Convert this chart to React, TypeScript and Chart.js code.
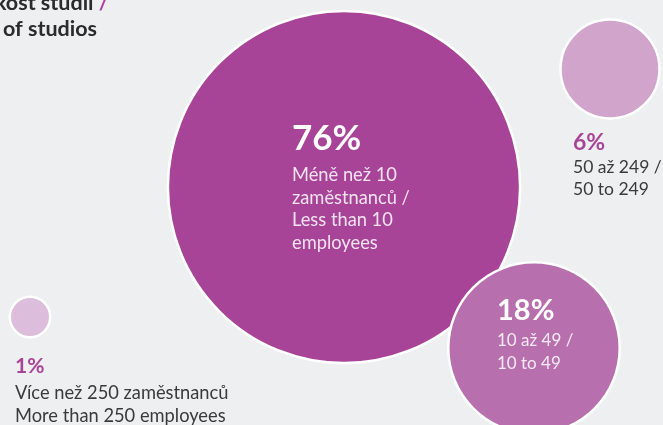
import React, { useEffect, useRef } from "react";
import { Chart, registerables } from "chart.js";

Chart.register(...registerables);

// ---- data ----
const shares = [76, 18, 6, 1];
const shareLabels = ["76%", "18%", "6%", "1%"];
const czLabels = ["Méně než 10 zaměstnanců /", "10 až 49 /", "50 až 249 /", "Více než 250 zaměstnanců"];
const enLabels = ["Less than 10 employees", "10 to 49", "50 to 249", "More than 250 employees"];
// label lines as laid out in the reference
const labelLines: string[][] = [
  ["Méně než 10", "zaměstnanců /", "Less than 10", "employees"],
  ["10 až 49 /", "10 to 49"],
  ["50 až 249 /", "50 to 249"],
  ["Více než 250 zaměstnanců", "More than 250 employees"],
];
// layout of bubbles (layout units = canvas pixels)
const bubbleX = [344, 534, 610, 30];
const bubbleY = [187, 348, 69, 317];
const bubbleColors = ["#a84497", "#b86fae", "#d1a4cc", "#dcbedc"];
const titleLine1 = "Velikost studií ";
const titleSlash = "/";
const titleLine2 = "Size of studios";
const titleLine2Visible = "of studios";

const K = 20.2;
const FONT = "Lato, 'Open Sans', sans-serif";

export default function App() {
  const ref = useRef<HTMLCanvasElement | null>(null);
  useEffect(() => {
    document.body.style.margin = "0";
    const canvas = ref.current!;
    const labelPlugin = {
      id: "labels",
      beforeDraw(chart: any) {
        const c = chart.ctx;
        c.save();
        c.fillStyle = "#eeeff1";
        c.fillRect(0, 0, chart.width, chart.height);
        c.restore();
      },
      afterDatasetsDraw(chart: any) {
        const c = chart.ctx as CanvasRenderingContext2D;
        const meta = chart.getDatasetMeta(0);
        const pts = meta.data;
        c.save();
        c.textAlign = "left";
        // 76% inside big bubble
        {
          const p = pts[0];
          const x = p.x - 52;
          c.fillStyle = "#ffffff";
          c.font = `bold 35px ${FONT}`;
          c.textBaseline = "alphabetic";
          c.fillText(shareLabels[0], x, p.y - 37);
          c.font = `18.3px ${FONT}`;
          c.fillStyle = "rgba(255,255,255,0.85)";
          c.textBaseline = "middle";
          labelLines[0].forEach((t, i) => c.fillText(t, x, p.y - 12 + i * 22.7));
        }
        // 18%
        {
          const p = pts[1];
          const x = p.x - 37;
          c.fillStyle = "#ffffff";
          c.font = `bold 29px ${FONT}`;
          c.textBaseline = "alphabetic";
          c.fillText(shareLabels[1], x, p.y - 28);
          c.font = `17px ${FONT}`;
          c.fillStyle = "rgba(255,255,255,0.85)";
          c.textBaseline = "middle";
          labelLines[1].forEach((t, i) => c.fillText(t, x, p.y - 7 + i * 23));
        }
        // 6%
        {
          const p = pts[2];
          const x = p.x - 37;
          c.fillStyle = "#a84497";
          c.font = `bold 23px ${FONT}`;
          c.textBaseline = "alphabetic";
          c.fillText(shareLabels[2], x, p.y + 81);
          c.font = `17.5px ${FONT}`;
          c.fillStyle = "#3a3a3a";
          c.textBaseline = "middle";
          labelLines[2].forEach((t, i) => c.fillText(t, x, p.y + 98 + i * 22));
        }
        // 1%
        {
          const p = pts[3];
          const x = p.x - 15;
          c.fillStyle = "#a84497";
          c.font = `bold 21px ${FONT}`;
          c.textBaseline = "alphabetic";
          c.fillText(shareLabels[3], x, p.y + 56);
          c.font = `18.3px ${FONT}`;
          c.fillStyle = "#3a3a3a";
          c.textBaseline = "middle";
          labelLines[3].forEach((t, i) => c.fillText(t, x, p.y + 76 + i * 23.5));
        }
        // title (cut off at left/top)
        c.font = `bold 21.5px ${FONT}`;
        c.textBaseline = "alphabetic";
        const prefix = titleLine2.slice(0, titleLine2.length - titleLine2Visible.length);
        const x0 = 3 - c.measureText(prefix).width;
        c.fillStyle = "#2b2b2b";
        c.fillText(titleLine1, x0, 10);
        const w1 = c.measureText(titleLine1).width;
        c.fillStyle = "#b23fa0";
        c.fillText(titleSlash, x0 + w1, 10);
        c.fillStyle = "#2b2b2b";
        c.fillText(titleLine2, x0, 36);
        c.restore();
      },
    };
    const chart = new Chart(canvas, {
      type: "bubble",
      data: {
        labels: czLabels.map((c, i) => c + " " + enLabels[i]),
        datasets: [
          {
            data: shares.map((s, i) => ({ x: bubbleX[i], y: bubbleY[i], r: K * Math.sqrt(s) })),
            backgroundColor: bubbleColors,
            borderColor: "#ffffff",
            borderWidth: 2.5,
            hoverBorderWidth: 2.5,
            clip: false as any,
          },
        ],
      },
      options: {
        responsive: false,
        animation: false,
        devicePixelRatio: 1,
        events: [],
        layout: { padding: 0, autoPadding: false },
        scales: {
          x: { type: "linear", min: 0, max: 663, display: false },
          y: { type: "linear", min: 0, max: 425, reverse: true, display: false },
        },
        plugins: { legend: { display: false }, tooltip: { enabled: false } },
      },
      plugins: [labelPlugin],
    });
    return () => chart.destroy();
  }, []);
  return (
    <div style={{ width: 663, height: 425 }}>
      <canvas ref={ref} width={663} height={425} style={{ display: "block" }} />
    </div>
  );
}
